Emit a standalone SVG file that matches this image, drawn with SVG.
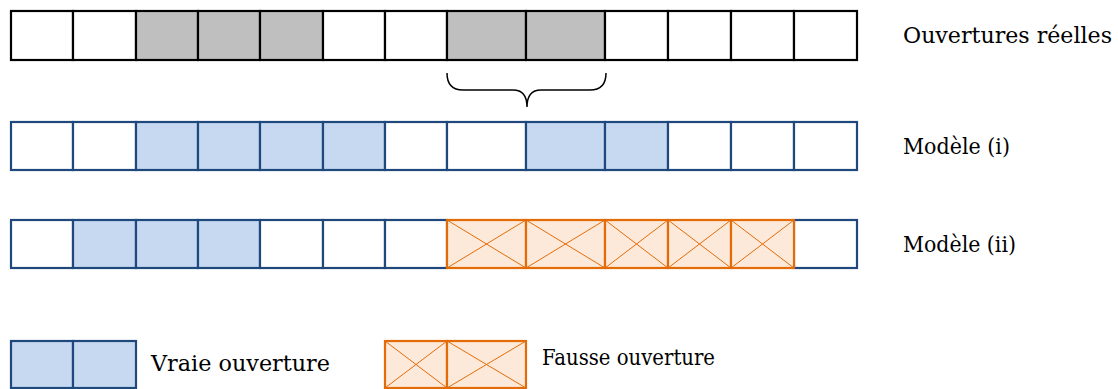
<svg xmlns="http://www.w3.org/2000/svg" width="1118" height="389" viewBox="0 0 1118 389">
<style>
.k{fill:#fff;stroke:#000;stroke-width:2.2}
.g{fill:#bfbfbf;stroke:#000;stroke-width:2.2}
.w{fill:#fff;stroke:#1f497d;stroke-width:2.2}
.b{fill:#c6d9f1;stroke:#1f497d;stroke-width:2.2}
.o{fill:#fde9d9;stroke:#e36c09;stroke-width:2.2}
.x{stroke:#e36c09;stroke-width:1;fill:none}
.t{font-family:"DejaVu Serif","Liberation Serif",serif;font-size:22px;fill:#000}
.br{fill:none;stroke:#000;stroke-width:1.5}
</style>
<rect width="1118" height="389" fill="#fff"/>
<g id="row-reelles">
<rect class="k" x="11" y="11" width="62" height="49"/>
<rect class="k" x="73" y="11" width="63" height="49"/>
<rect class="g" x="136" y="11" width="62" height="49"/>
<rect class="g" x="198" y="11" width="62" height="49"/>
<rect class="g" x="260" y="11" width="63" height="49"/>
<rect class="k" x="323" y="11" width="62" height="49"/>
<rect class="k" x="385" y="11" width="62" height="49"/>
<rect class="g" x="447" y="11" width="79" height="49"/>
<rect class="g" x="526" y="11" width="79" height="49"/>
<rect class="k" x="605" y="11" width="63" height="49"/>
<rect class="k" x="668" y="11" width="63" height="49"/>
<rect class="k" x="731" y="11" width="63" height="49"/>
<rect class="k" x="794" y="11" width="63" height="49"/>
<text class="t" x="903" y="43" textLength="209" lengthAdjust="spacingAndGlyphs">Ouvertures réelles</text>
</g>
<g id="row-modele-i">
<rect class="w" x="11" y="122" width="62" height="48"/>
<rect class="w" x="73" y="122" width="63" height="48"/>
<rect class="b" x="136" y="122" width="62" height="48"/>
<rect class="b" x="198" y="122" width="62" height="48"/>
<rect class="b" x="260" y="122" width="63" height="48"/>
<rect class="b" x="323" y="122" width="62" height="48"/>
<rect class="w" x="385" y="122" width="62" height="48"/>
<rect class="w" x="447" y="122" width="79" height="48"/>
<rect class="b" x="526" y="122" width="79" height="48"/>
<rect class="b" x="605" y="122" width="63" height="48"/>
<rect class="w" x="668" y="122" width="63" height="48"/>
<rect class="w" x="731" y="122" width="63" height="48"/>
<rect class="w" x="794" y="122" width="63" height="48"/>
<text class="t" x="903" y="154" textLength="107" lengthAdjust="spacingAndGlyphs">Modèle (i)</text>
</g>
<g id="row-modele-ii">
<rect class="w" x="11" y="220" width="62" height="48"/>
<rect class="b" x="73" y="220" width="63" height="48"/>
<rect class="b" x="136" y="220" width="62" height="48"/>
<rect class="b" x="198" y="220" width="62" height="48"/>
<rect class="w" x="260" y="220" width="63" height="48"/>
<rect class="w" x="323" y="220" width="62" height="48"/>
<rect class="w" x="385" y="220" width="62" height="48"/>
<rect class="w" x="794" y="220" width="63" height="48"/>
<rect class="o" x="447" y="220" width="79" height="48"/>
<rect class="o" x="526" y="220" width="79" height="48"/>
<rect class="o" x="605" y="220" width="63" height="48"/>
<rect class="o" x="668" y="220" width="63" height="48"/>
<rect class="o" x="731" y="220" width="63" height="48"/>
<path class="x" d="M447,220L526,268M526,220L447,268M526,220L605,268M605,220L526,268M605,220L668,268M668,220L605,268M668,220L731,268M731,220L668,268M731,220L794,268M794,220L731,268"/>
<text class="t" x="903" y="252" textLength="113" lengthAdjust="spacingAndGlyphs">Modèle (ii)</text>
</g>
<g id="legend-vraie">
<rect class="b" x="11" y="341" width="62" height="47"/>
<rect class="b" x="73" y="341" width="63" height="47"/>
<text class="t" x="151" y="371" textLength="179" lengthAdjust="spacingAndGlyphs">Vraie ouverture</text>
</g>
<g id="legend-fausse">
<rect class="o" x="385" y="341" width="62" height="47"/>
<rect class="o" x="447" y="341" width="79" height="47"/>
<path class="x" d="M385,341L447,388M447,341L385,388M447,341L526,388M526,341L447,388"/>
<text class="t" x="542" y="365" textLength="173" lengthAdjust="spacingAndGlyphs">Fausse ouverture</text>
</g>
<g id="connectors">
<path class="br" d="M447,73Q447,90 463,90L513,90Q527,90 527,107Q527,90 541,90L590,90Q606,90 606,73"/>
</g>
</svg>
